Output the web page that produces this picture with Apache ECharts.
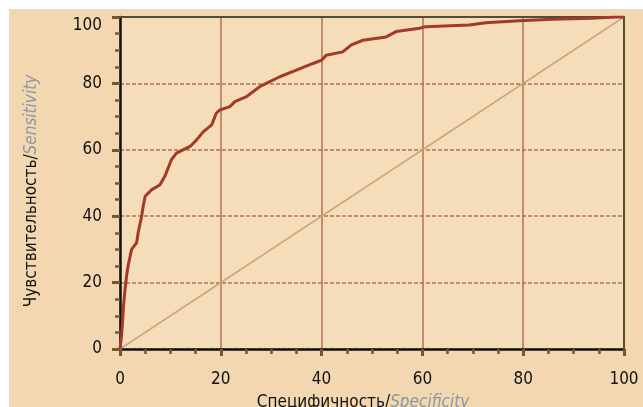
<!DOCTYPE html>
<html lang="ru">
<head>
  <meta http-equiv="Content-Type" content="text/html; charset=UTF-8">
  <title>ROC</title>
  <style>
    html, body { margin: 0; padding: 0; background: #fff; }
    #myChart {
      position: absolute;
      left: 9px;
      top: 9px;
      width: 634px;
      height: 398px;
    }
  </style>
</head>
<body>
  <div id="myChart"></div>
  <script src="https://cdn.jsdelivr.net/npm/echarts@6/dist/echarts.min.js"></script>
  <script>
    // 1 - специфичность по оси x, чувствительность по оси y
    const spec = [0, 0.3, 0.5, 0.7, 1.0, 1.3, 1.6, 2.3, 3.3, 3.6, 4.3, 4.6, 5.0, 6.3, 7.9,
      8.9, 10.2, 11.2, 12.5, 13.9, 15.2, 16.5, 18.2, 19.1, 19.8, 21.8, 22.8, 25.1, 27.7, 29.0,
      31.7, 35.0, 38.3, 40.0, 40.9, 44.2, 45.9, 48.2, 52.8, 54.8, 59.4, 60.7, 69.3, 72.6, 79.2,
      85.8, 93.7, 98.3, 100];
    const sens = [0, 4, 8, 13, 18, 22, 25, 30, 32, 35, 40, 43, 46, 48, 49.4,
      52, 57, 59, 60, 61, 63, 65.4, 67.5, 71, 72, 73, 74.5, 76, 79, 80,
      82, 84, 86, 87, 88.5, 89.5, 91.6, 93, 94, 95.6, 96.6, 97.1, 97.6, 98.3, 98.9,
      99.3, 99.6, 100, 100];
    const diagX = [0, 100];
    const diagY = [0, 100];
    const tickLabels = ['0', '20', '40', '60', '80', '100'];

    const font = '"Liberation Sans Narrow", "DejaVu Sans Condensed", "Roboto", sans-serif';
    const tickStyle = { color: '#7a5532', width: 3 };
    // рамка сверху и справа
    const frameAxis = (position) => ({
      type: 'value',
      position,
      min: 0,
      max: 100,
      interval: 20,
      axisLine: { show: true, onZero: false, lineStyle: { color: '#4f4d3c', width: 2 } },
      axisTick: { show: false },
      axisLabel: { show: false },
      splitLine: { show: false },
      z: 4
    });

    const myChart = echarts.init(document.getElementById('myChart'));
    const option = {
      backgroundColor: '#f3d7b0',
      animation: false,
      grid: {
        left: 111,
        right: 19,
        top: 8,
        bottom: 58,
        outerBoundsMode: 'none',
        containLabel: false,
        show: true,
        backgroundColor: '#f6ddba',
        borderWidth: 0
      },
      xAxis: [{
        type: 'value',
        min: 0,
        max: 100,
        interval: 20,
        name: '{a|Специфичность/}{b|Specificity}',
        nameLocation: 'middle',
        nameGap: 45,
        nameTextStyle: {
          padding: [0, 18, 0, 0],
          rich: {
            a: { fontFamily: font, fontSize: 17, color: '#111' },
            b: { fontFamily: font, fontSize: 17, color: '#8a98a8', fontStyle: 'italic' }
          }
        },
        axisLine: { onZero: false, lineStyle: { color: '#111', width: 2.5 } },
        axisTick: { show: true, length: 7, lineStyle: tickStyle },
        minorTick: { show: true, splitNumber: 4, length: 5, lineStyle: { color: '#7a5532', width: 2.5 } },
        axisLabel: {
          margin: 22,
          fontFamily: font,
          fontSize: 17,
          color: '#111',
          formatter: (v) => tickLabels[v / 20]
        },
        splitLine: { show: true, lineStyle: { color: '#b6705a', width: 1.5 } },
        z: 3
      }, frameAxis('top')],
      yAxis: [{
        type: 'value',
        min: 0,
        max: 100,
        interval: 20,
        name: '{a|Чувствительность/}{b|Sensitivity}',
        nameLocation: 'middle',
        nameGap: 80,
        nameTextStyle: {
          padding: [0, 16, 0, 0],
          rich: {
            a: { fontFamily: font, fontSize: 17, color: '#111' },
            b: { fontFamily: font, fontSize: 17, color: '#8a98a8', fontStyle: 'italic' }
          }
        },
        axisLine: { show: true, onZero: false, lineStyle: { color: '#111', width: 2.5 } },
        axisTick: { show: true, length: 8, lineStyle: tickStyle },
        minorTick: { show: true, splitNumber: 4, length: 5, lineStyle: { color: '#7a5532', width: 2.5 } },
        axisLabel: {
          margin: 18,
          fontFamily: font,
          fontSize: 17,
          color: '#111',
          verticalAlignMaxLabel: 'top',
          formatter: (v) => tickLabels[v / 20]
        },
        splitLine: { show: true, lineStyle: { color: '#b0705a', width: 1.5, type: [4, 2] } },
        z: 3
      }, frameAxis('right')],
      series: [{
        type: 'line',
        data: diagX.map((x, i) => [x, diagY[i]]),
        showSymbol: false,
        silent: true,
        lineStyle: { color: '#caa67c', width: 1.5 }
      }, {
        type: 'line',
        data: spec.map((x, i) => [x, sens[i]]),
        showSymbol: false,
        lineStyle: { color: '#a3392a', width: 3 },
        z: 5
      }]
    };
    myChart.setOption(option);
  </script>
</body>
</html>
